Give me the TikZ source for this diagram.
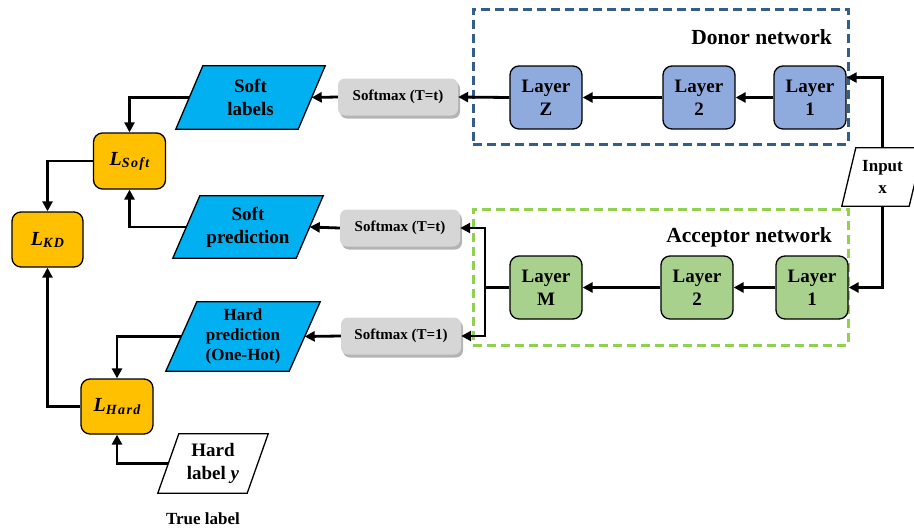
\documentclass[tikz,border=0pt]{standalone}
\usepackage{fontspec}
\setmainfont{Liberation Serif}
\newfontfamily\subfont[LetterSpace=10]{Liberation Serif}
\usetikzlibrary{arrows.meta,calc,backgrounds,shadows}
\definecolor{pblue}{HTML}{00B0F0}
\definecolor{dblue}{HTML}{8FAADC}
\definecolor{agreen}{HTML}{A9D18E}
\definecolor{lorange}{HTML}{FFC000}
\definecolor{sgray}{HTML}{D6D6D6}
\definecolor{sshadow}{HTML}{B4B4B4}
\definecolor{dframe}{HTML}{335D8C}
\definecolor{aframe}{HTML}{92D050}
\newcommand\lossname[1]{{\fontsize{20}{20}\selectfont\bfseries\itshape L}\raisebox{-0.45ex}{\fontsize{14}{14}\selectfont\subfont\bfseries\itshape #1}}
\newcommand\parabg[3]{\draw[line width=1.3pt, fill=#3] (#1.south west) -- ($(#1.north west)+(#2,0)$) -- (#1.north east) -- ($(#1.south east)-(#2,0)$) -- cycle;}
\begin{document}
\begin{tikzpicture}[x=1pt,y=-1pt,
  box/.style={draw=black, line width=1.3pt, rounded corners=9pt, minimum width=72pt, minimum height=63pt, inner sep=0pt, align=center, font=\fontsize{19}{23}\selectfont\bfseries},
  donorbox/.style={box, fill=dblue},
  accbox/.style={box, fill=agreen},
  lossbox/.style={draw=black, line width=1.3pt, rounded corners=9pt, fill=lorange, minimum width=72pt, minimum height=56pt, inner sep=0pt},
  smax/.style={fill=sgray, rounded corners=7pt, minimum width=120pt, minimum height=37pt, inner sep=0pt, font=\fontsize{15}{15}\selectfont\bfseries, drop shadow={shadow xshift=2pt, shadow yshift=-3pt, fill=sshadow, opacity=1}},
  ptext/.style={inner sep=0pt, align=center, font=\fontsize{19}{23}\selectfont\bfseries},
  ptextsmall/.style={ptext, font=\fontsize{17}{20}\selectfont\bfseries},
  netframe/.style={line width=3pt, dash pattern=on 9pt off 5pt},
  conn/.style={line width=2.8pt, -{Triangle[length=10pt,width=10pt]}},
  plainline/.style={line width=2.8pt},
  title/.style={font=\fontsize{21.5}{21.5}\selectfont\bfseries, inner sep=0pt}
]
\useasboundingbox (0,0) rectangle (914,528);

% frames
\node[draw=dframe, netframe, minimum width=375pt, minimum height=135pt, inner sep=0pt] (dfr) at (660.5,76.5) {};
\node[draw=aframe, netframe, minimum width=375pt, minimum height=136pt, inner sep=0pt] (afr) at (660.5,277) {};
\node[title, anchor=east] (dtitle) at (832,37) {Donor network};
\node[title, anchor=east] (atitle) at (832,237) {Acceptor network};

% layers
\node[donorbox] (lz) at (546,97.5) {Layer\\Z};
\node[donorbox] (d2) at (699,97.5) {Layer\\2};
\node[donorbox] (d1) at (810,97.5) {Layer\\1};
\node[accbox] (lm) at (546,287.5) {Layer\\M};
\node[accbox] (a2) at (697,287.5) {Layer\\2};
\node[accbox] (a1) at (812,287.5) {Layer\\1};

% softmax
\node[smax] (s1) at (398,97) {Softmax (T=t)};
\node[smax] (s2) at (400,228) {Softmax (T=t)};
\node[smax] (s3) at (401,336) {Softmax (T=1)};

% parallelogram texts
\node[ptext, minimum width=149pt, minimum height=63pt] (sl) at (250.5,97.5) {Soft\\labels};
\node[ptext, minimum width=150pt, minimum height=62pt] (sp) at (248,227) {Soft\\prediction};
\node[ptextsmall, minimum width=154pt, minimum height=69pt] (hp) at (243,336.5) {Hard\\prediction\\(One-Hot)};
\node[ptext, minimum width=110pt, minimum height=59pt] (hl) at (213,463.5) {Hard\\label \textit{y}};
\node[ptextsmall, minimum width=81pt, minimum height=58pt, font=\fontsize{17}{22}\selectfont\bfseries] (in) at (882.5,177) {Input\\x};
\node[font=\fontsize{17}{17}\selectfont\bfseries, inner sep=0pt] (tl) at (203,519) {True label};

\begin{scope}[on background layer]
\parabg{sl}{27}{pblue}
\parabg{sp}{27}{pblue}
\parabg{hp}{31}{pblue}
\parabg{hl}{21}{white}
\parabg{in}{14}{white}
\end{scope}

% losses
\node[lossbox] (ls) at (129.5,161) {\lossname{Soft}};
\node[lossbox, minimum width=71pt, minimum height=55pt] (lkd) at (47.5,239.5) {\lossname{KD}};
\node[lossbox, minimum height=55pt] (lh) at (117,406.5) {\lossname{Hard}};

% connectors
\draw[conn] (in.north) |- ($(d1.north east)!0.19!(d1.south east)$);
\draw[conn] (in.south) |- (a1.east);
\draw[conn] (d1.west) -- (d2.east);
\draw[conn] (d2.west) -- (lz.east);
\draw[conn] (lz.west) -- (s1.east);
\draw[conn] (a1.west) -- (a2.east);
\draw[conn] (a2.west) -- (lm.east);
\coordinate (br) at (485,287.5);
\draw[plainline] (lm.west) -- (br);
\draw[conn] (br) |- (s2.east);
\draw[conn] (br) |- (s3.east);
\draw[conn] (s1.west) -- ($(sl.east)-(13.5,0)$);
\draw[conn] (s2.west) -- ($(sp.east)-(13.5,0)$);
\draw[conn] (s3.west) -- ($(hp.east)-(15.5,0)$);
\draw[conn] ($(sl.west)+(13.5,0)$) -| (ls.north);
\draw[conn] ($(sp.west)+(13.5,0)$) -| (ls.south);
\draw[conn] (ls.west) -| (lkd.north);
\draw[conn] (lh.west) -| (lkd.south);
\draw[conn] ($(hp.west)+(15.5,0)$) -| (lh.north);
\draw[conn] ($(hl.west)+(10.5,0)$) -| (lh.south);
\end{tikzpicture}
\end{document}
